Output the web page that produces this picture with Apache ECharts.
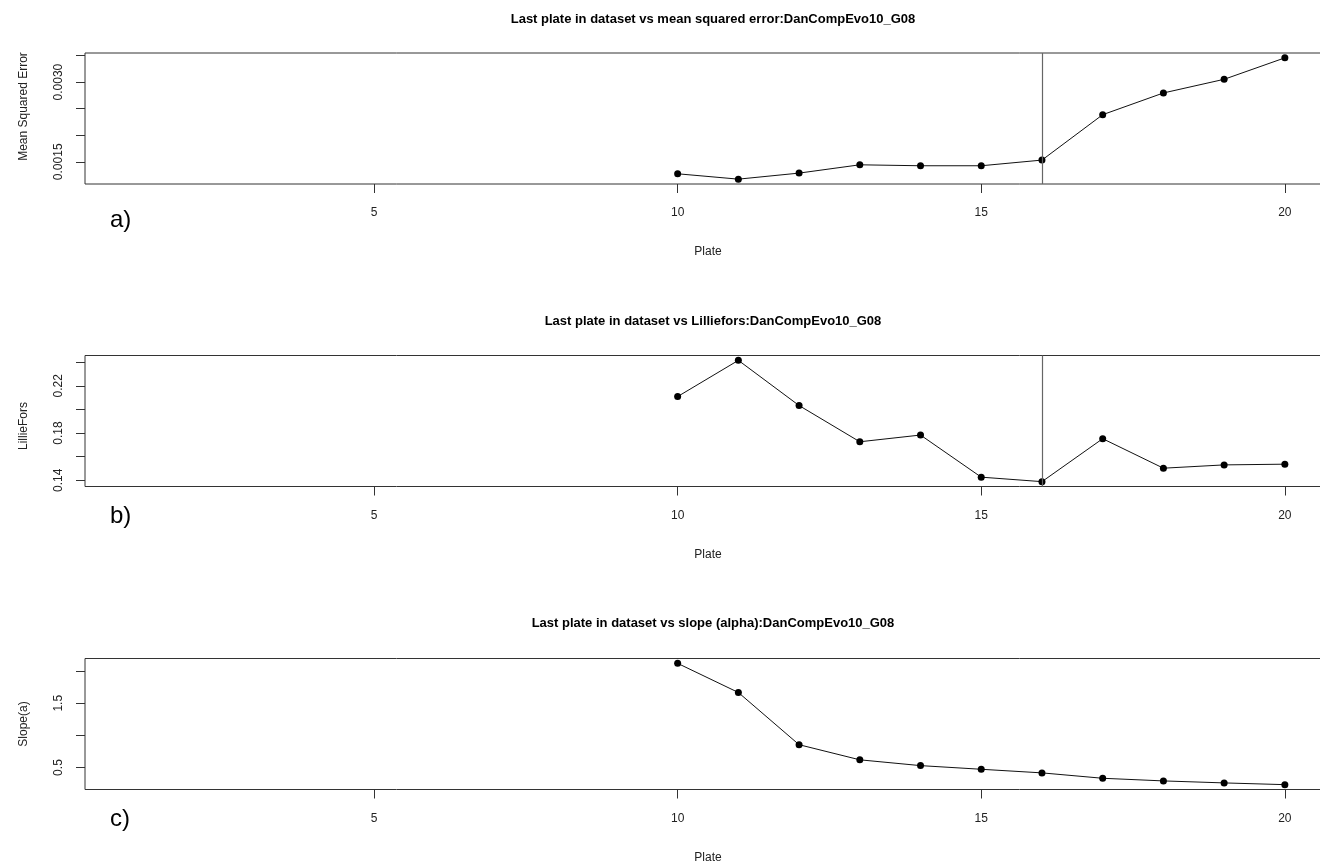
<!DOCTYPE html>
<html>
<head>
<meta charset="utf-8">
<script src="https://cdn.jsdelivr.net/npm/echarts@6/dist/echarts.min.js"></script>
<style>
  html, body { margin: 0; padding: 0; background: #fff; overflow: hidden; }
  /* the plot boxes run a little past the right edge of the window */
  #chart { width: 1340px; height: 866px; }
</style>
</head>
<body>
<div id="chart"></div>
<script>
// Plates 10..20, the last plate included in each dataset
const plates = [10, 11, 12, 13, 14, 15, 16, 17, 18, 19, 20];
const mse = [0.001274, 0.001173, 0.001287, 0.001443, 0.001425, 0.001425, 0.001532, 0.002387, 0.002796, 0.003053, 0.003457];
const lillie = [0.2109, 0.2416, 0.2033, 0.1726, 0.1783, 0.1426, 0.1388, 0.1752, 0.1502, 0.1530, 0.1536];
const slope = [2.12, 1.667, 0.855, 0.62, 0.53, 0.473, 0.417, 0.333, 0.292, 0.261, 0.234];

const plateRange = [1, 20];
const cutPlate = 16;

const xTicks = [5, 10, 15, 20];
const mseTicks = [0.0015, 0.0020, 0.0025, 0.0030, 0.0035];
const mseLabels = [0.0015, 0.0030];
const lillieTicks = [0.14, 0.16, 0.18, 0.20, 0.22, 0.24];
const lillieLabels = [0.14, 0.18, 0.22];
const slopeTicks = [0.5, 1.0, 1.5, 2.0];
const slopeLabels = [0.5, 1.5];

const titles = [
  'Last plate in dataset vs mean squared error:DanCompEvo10_G08',
  'Last plate in dataset vs Lilliefors:DanCompEvo10_G08',
  'Last plate in dataset vs slope (alpha):DanCompEvo10_G08'
];
const yNames = ['Mean Squared Error', 'LillieFors', 'Slope(a)'];
const panelTags = ['a)', 'b)', 'c)'];

// Axis range padded by 4% on each side, like base-R plots
function padRange(lo, hi) {
  const d = (hi - lo) * 0.04;
  return [lo - d, hi + d];
}
function dataRange(arr) {
  return padRange(Math.min(...arr), Math.max(...arr));
}

const FONT = 'Liberation Sans, Arial, sans-serif';
const INK = '#222';
const BOX = '#333';

const panels = [
  { data: mse, ticks: mseTicks, labels: mseLabels, digits: 4, cut: true, namePad: [0, 0, 0, 24] },
  { data: lillie, ticks: lillieTicks, labels: lillieLabels, digits: 2, cut: true, namePad: [0, 10, 0, 0] },
  { data: slope, ticks: slopeTicks, labels: slopeLabels, digits: 1, cut: false, namePad: 0 }
];

const gridTops = [53, 355.5, 658.5];
const gridLeft = 85;
const gridWidth = 1246;
const gridHeight = 131;
const titleCenters = [18, 320, 622];
const tagCenters = [221, 517, 820];

const xRange = padRange(plateRange[0], plateRange[1]);

const option = {
  animation: false,
  backgroundColor: '#fff',
  title: titles.map((t, i) => ({
    text: t,
    left: gridLeft + gridWidth / 2,
    top: titleCenters[i] - 10,
    textAlign: 'center',
    textStyle: { fontFamily: FONT, fontSize: 13, fontWeight: 'bold', color: '#000' }
  })),
  grid: panels.map((p, i) => ({
    left: gridLeft,
    top: gridTops[i],
    width: gridWidth,
    height: gridHeight,
    show: true,
    borderColor: BOX,
    borderWidth: 1,
    backgroundColor: 'transparent'
  })),
  xAxis: panels.map((p, i) => ({
    type: 'value',
    gridIndex: i,
    min: xRange[0],
    max: xRange[1],
    name: 'Plate',
    nameLocation: 'middle',
    nameGap: 62,
    nameTextStyle: { fontFamily: FONT, fontSize: 12, color: INK },
    axisLine: { show: false },
    axisTick: { show: true, length: 9, customValues: xTicks, lineStyle: { color: BOX } },
    axisLabel: { customValues: xTicks, margin: 23, fontFamily: FONT, fontSize: 12, color: INK },
    splitLine: { show: false }
  })),
  yAxis: panels.map((p, i) => {
    const r = dataRange(p.data);
    return {
      type: 'value',
      gridIndex: i,
      min: r[0],
      max: r[1],
      name: yNames[i],
      nameLocation: 'middle',
      nameRotate: 90,
      nameGap: 55,
      nameTextStyle: { fontFamily: FONT, fontSize: 12, color: INK, padding: p.namePad },
      axisLine: { show: false },
      axisTick: { show: true, length: 9, customValues: p.ticks, lineStyle: { color: BOX } },
      axisLabel: {
        customValues: p.labels,
        rotate: 90,
        margin: 20,
        fontFamily: FONT,
        fontSize: 12,
        color: INK,
        formatter: v => Number(v).toFixed(p.digits)
      },
      splitLine: { show: false }
    };
  }),
  series: panels.map((p, i) => ({
    type: 'line',
    xAxisIndex: i,
    yAxisIndex: i,
    data: plates.map((x, k) => [x, p.data[k]]),
    symbol: 'circle',
    symbolSize: 7,
    itemStyle: { color: '#000' },
    lineStyle: { color: '#111', width: 1 },
    markLine: p.cut ? {
      silent: true,
      symbol: ['none', 'none'],
      label: { show: false },
      lineStyle: { color: '#666', width: 1.2, type: 'solid' },
      data: [{ xAxis: cutPlate }]
    } : undefined
  })),
  graphic: panelTags.map((t, i) => ({
    type: 'text',
    left: 110,
    top: tagCenters[i] - 13,
    style: { text: t, fontFamily: FONT, fontSize: 24, fill: '#000' }
  }))
};

const chart = echarts.init(document.getElementById('chart'), null, { renderer: 'canvas' });
chart.setOption(option);
</script>
</body>
</html>
